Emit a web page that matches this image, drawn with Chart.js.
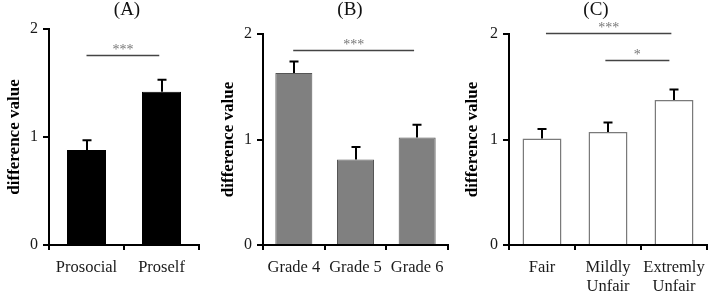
<!DOCTYPE html>
<html>
<head>
<meta charset="utf-8">
<script src="https://cdn.jsdelivr.net/npm/chart.js@4.4.0/dist/chart.umd.min.js"></script>
<style>
  html, body { margin: 0; padding: 0; background: #fff; }
  body { width: 709px; height: 294px; position: relative; overflow: hidden; }
  .panel { position: absolute; top: 0; height: 294px; }
  canvas { display: block; }
</style>
</head>
<body>
<div class="panel" style="left:0px;width:215px"><canvas id="cA" width="215" height="294"></canvas></div>
<div class="panel" style="left:214px;width:246px"><canvas id="cB" width="246" height="294"></canvas></div>
<div class="panel" style="left:458px;width:251px"><canvas id="cC" width="251" height="294"></canvas></div>
<script>
// ---- data ----
const yTickValues = [0, 1, 2];
const yAxisTitle = 'difference value';

const panelTitleA = '(A)';
const categoriesA = ['Prosocial', 'Proself'];
const meansA = [0.88, 1.42];
const errorsA = [0.09, 0.11];
const sigA = [{ from: 0, to: 0.97, y: 1.76, label: '***' }];

const panelTitleB = '(B)';
const categoriesB = ['Grade 4', 'Grade 5', 'Grade 6'];
const meansB = [1.63, 0.81, 1.02];
const errorsB = [0.11, 0.12, 0.12];
const sigB = [{ from: -0.01, to: 1.95, y: 1.85, label: '***' }];

const panelTitleC = '(C)';
const categoriesC = [['Fair'], ['Mildly', 'Unfair'], ['Extremly', 'Unfair']];
const meansC = [1.01, 1.07, 1.375];
const errorsC = [0.09, 0.09, 0.10];
const sigC = [
  { from: 0.06, to: 1.96, y: 2.01, label: '***' },
  { from: 0.96, to: 1.93, y: 1.75, label: '*' }
];

// ---- drawing ----
const FONT = "'Liberation Serif', 'Times New Roman', serif";

const panelPlugin = {
  id: 'panelDeco',
  afterDatasetsDraw(chart, args, opts) {
    const { ctx } = chart;
    const x = chart.scales.x, y = chart.scales.y;
    const meta = chart.getDatasetMeta(0);
    const means = chart.data.datasets[0].data;
    ctx.save();
    // error bars
    ctx.strokeStyle = '#000';
    ctx.lineWidth = 2;
    meta.data.forEach((bar, i) => {
      const cx = Math.round(bar.x);
      const yTop = y.getPixelForValue(means[i]);
      const yE = y.getPixelForValue(means[i] + opts.errors[i]);
      ctx.beginPath();
      ctx.moveTo(cx, yTop);
      ctx.lineTo(cx, yE);
      ctx.moveTo(cx - 4.5, yE);
      ctx.lineTo(cx + 4.5, yE);
      ctx.stroke();
    });
    // significance lines
    opts.sig.forEach(s => {
      const x1 = x.getPixelForValue(s.from);
      const x2 = x.getPixelForValue(s.to);
      const ly = Math.round(y.getPixelForValue(s.y)) + 0.5;
      ctx.strokeStyle = '#444';
      ctx.lineWidth = 1.5;
      ctx.beginPath();
      ctx.moveTo(x1, ly);
      ctx.lineTo(x2, ly);
      ctx.stroke();
      ctx.fillStyle = '#777';
      ctx.font = '14px ' + FONT;
      ctx.textAlign = 'center';
      ctx.textBaseline = 'alphabetic';
      ctx.fillText(s.label, (x1 + x2) / 2, ly - 2);
    });
    // panel title
    ctx.fillStyle = '#111';
    ctx.font = '19px ' + FONT;
    ctx.textAlign = 'center';
    ctx.textBaseline = 'middle';
    ctx.fillText(opts.title, opts.titleX, 10);
    ctx.restore();
  }
};

function makePanel(id, cats, means, errs, sig, title, cfg) {
  new Chart(document.getElementById(id), {
    type: 'bar',
    data: {
      labels: cats,
      datasets: [{
        data: means,
        backgroundColor: cfg.fill,
        borderColor: cfg.border,
        borderWidth: cfg.borderWidth,
        barPercentage: cfg.barPct,
        categoryPercentage: 1
      }]
    },
    options: {
      responsive: false,
      animation: false,
      devicePixelRatio: 1,
      layout: { padding: cfg.padding },
      plugins: {
        legend: { display: false },
        tooltip: { enabled: false },
        panelDeco: { errors: errs, sig: sig, title: title, titleX: cfg.titleX }
      },
      scales: {
        x: {
          afterFit: s => { s.height = cfg.xHeight; s.paddingLeft = 0; s.paddingRight = 0; },
          grid: { drawOnChartArea: false, offset: true, tickLength: 5, color: '#000', lineWidth: 2 },
          border: { display: true, color: '#000', width: 2 },
          ticks: {
            color: '#1a1a1a',
            font: { family: FONT, size: 16.5, lineHeight: 1.15 },
            padding: 8,
            maxRotation: 0,
            minRotation: 0,
            autoSkip: false
          }
        },
        y: {
          min: 0,
          max: 2,
          afterFit: s => { s.width = cfg.yWidth; s.paddingTop = 0; s.paddingBottom = 0; },
          afterBuildTicks: s => { s.ticks = yTickValues.map(v => ({ value: v })); },
          grid: { drawOnChartArea: false, tickLength: 6, color: '#000', lineWidth: 2 },
          border: { display: true, color: '#000', width: 2 },
          ticks: {
            color: '#1a1a1a',
            font: { family: FONT, size: 16 },
            padding: 5
          },
          title: {
            display: true,
            text: yAxisTitle,
            color: '#000',
            font: { family: FONT, size: 17, weight: 'bold' },
            padding: { top: 4, bottom: 0 }
          }
        }
      }
    },
    plugins: [panelPlugin]
  });
}

makePanel('cA', categoriesA, meansA, errorsA, sigA, panelTitleA, {
  fill: '#000', border: '#000', borderWidth: 1, barPct: 0.52,
  padding: { left: 0, right: 16, top: 29, bottom: 0 },
  xHeight: 49, yWidth: 49, titleX: 127
});
makePanel('cB', categoriesB, meansB, errorsB, sigB, panelTitleB, {
  fill: '#808080', border: '#555', borderWidth: 1, barPct: 0.6,
  padding: { left: 0, right: 12, top: 34, bottom: 0 },
  xHeight: 49, yWidth: 49, titleX: 136
});
makePanel('cC', categoriesC, meansC, errorsC, sigC, panelTitleC, {
  fill: '#fff', border: '#7a7a7a', borderWidth: 1.5, barPct: 0.59,
  padding: { left: 0, right: 2, top: 34, bottom: 0 },
  xHeight: 49, yWidth: 51, titleX: 138
});
</script>
</body>
</html>
